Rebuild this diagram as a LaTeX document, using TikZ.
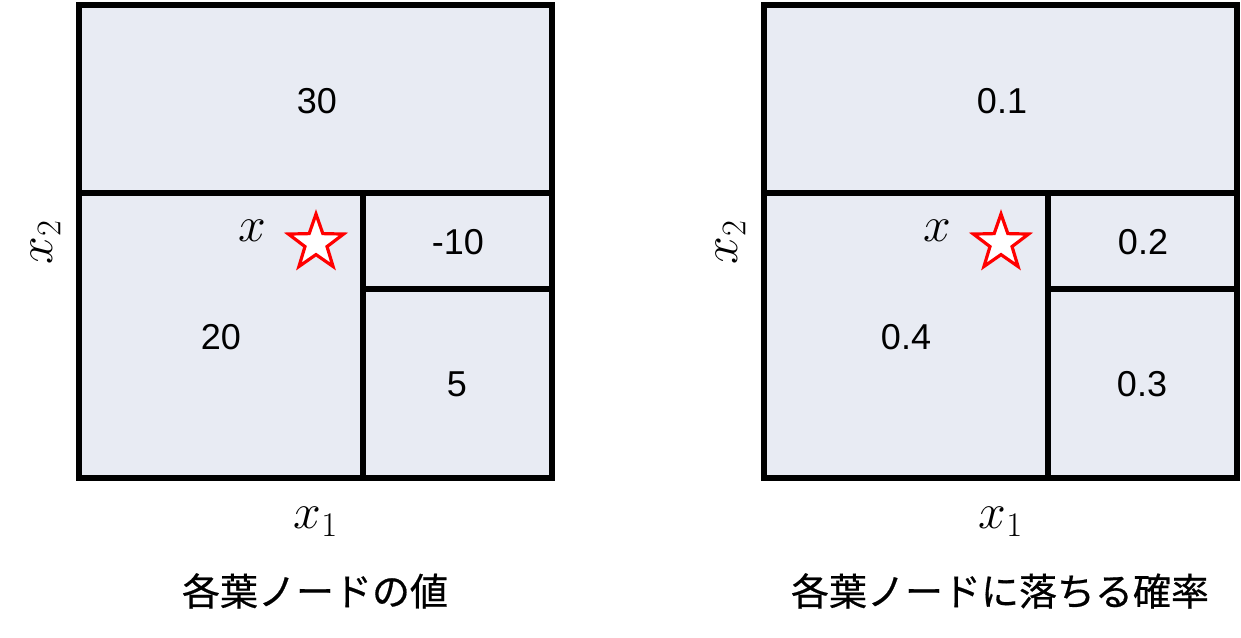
\documentclass[tikz,border=0pt]{standalone}
\usepackage{fontspec}
\setmainfont{Liberation Sans}
\newfontfamily\cjk[FakeBold=0.5]{Noto Sans CJK JP}
\usetikzlibrary{shapes.geometric}
\definecolor{cellfill}{HTML}{E8EBF3}
\tikzset{
  grid/.style={line width=2.6pt, draw=black},
  num/.style={font=\fontsize{18}{20}\selectfont, inner sep=0pt},
  mathlbl/.style={font=\fontsize{24}{28}\selectfont, inner sep=0pt},
  caption/.style={font=\cjk\fontsize{19}{22}\selectfont, inner sep=0pt},
  pt/.style={star, star points=5, star point ratio=2.5, minimum size=29pt, inner sep=0pt, draw=red, fill=white, line width=1.6pt},
}
\begin{document}
\begin{tikzpicture}[x=0.5pt,y=-0.5pt]
\useasboundingbox (0,0) rectangle (1241,637);
\foreach \ox/\a/\b/\c/\d/\nm in {0/30/-10/20/5/各葉ノードの値, 685/0.1/0.2/0.4/0.3/各葉ノードに落ちる確率}{
  \begin{scope}[xshift=\ox*0.5pt]
    \fill[cellfill] (79,5) rectangle (552,478);
    \draw[grid] (79,193) -- (552,193);
    \draw[grid] (363,193) -- (363,478);
    \draw[grid] (363,289) -- (552,289);
    \draw[grid] (79,5) rectangle (552,478);
    \node[num] (top) at (317,101) {\a};
    \node[num] (ur) at (458,242) {\b};
    \node[num] (left) at (221,337) {\c};
    \node[num] (lr) at (457,384) {\d};
    \node[mathlbl] (xl) at (252,231) {$x$};
    \node[pt] (star) at (316,243) {};
    \node[mathlbl, rotate=90] (x2) at (46,242) {$x_2$};
    \node[mathlbl] (x1) at (316,522) {$x_1$};
    \node[caption] (cap) at (315,591) {\nm};
  \end{scope}
}
\end{tikzpicture}
\end{document}
